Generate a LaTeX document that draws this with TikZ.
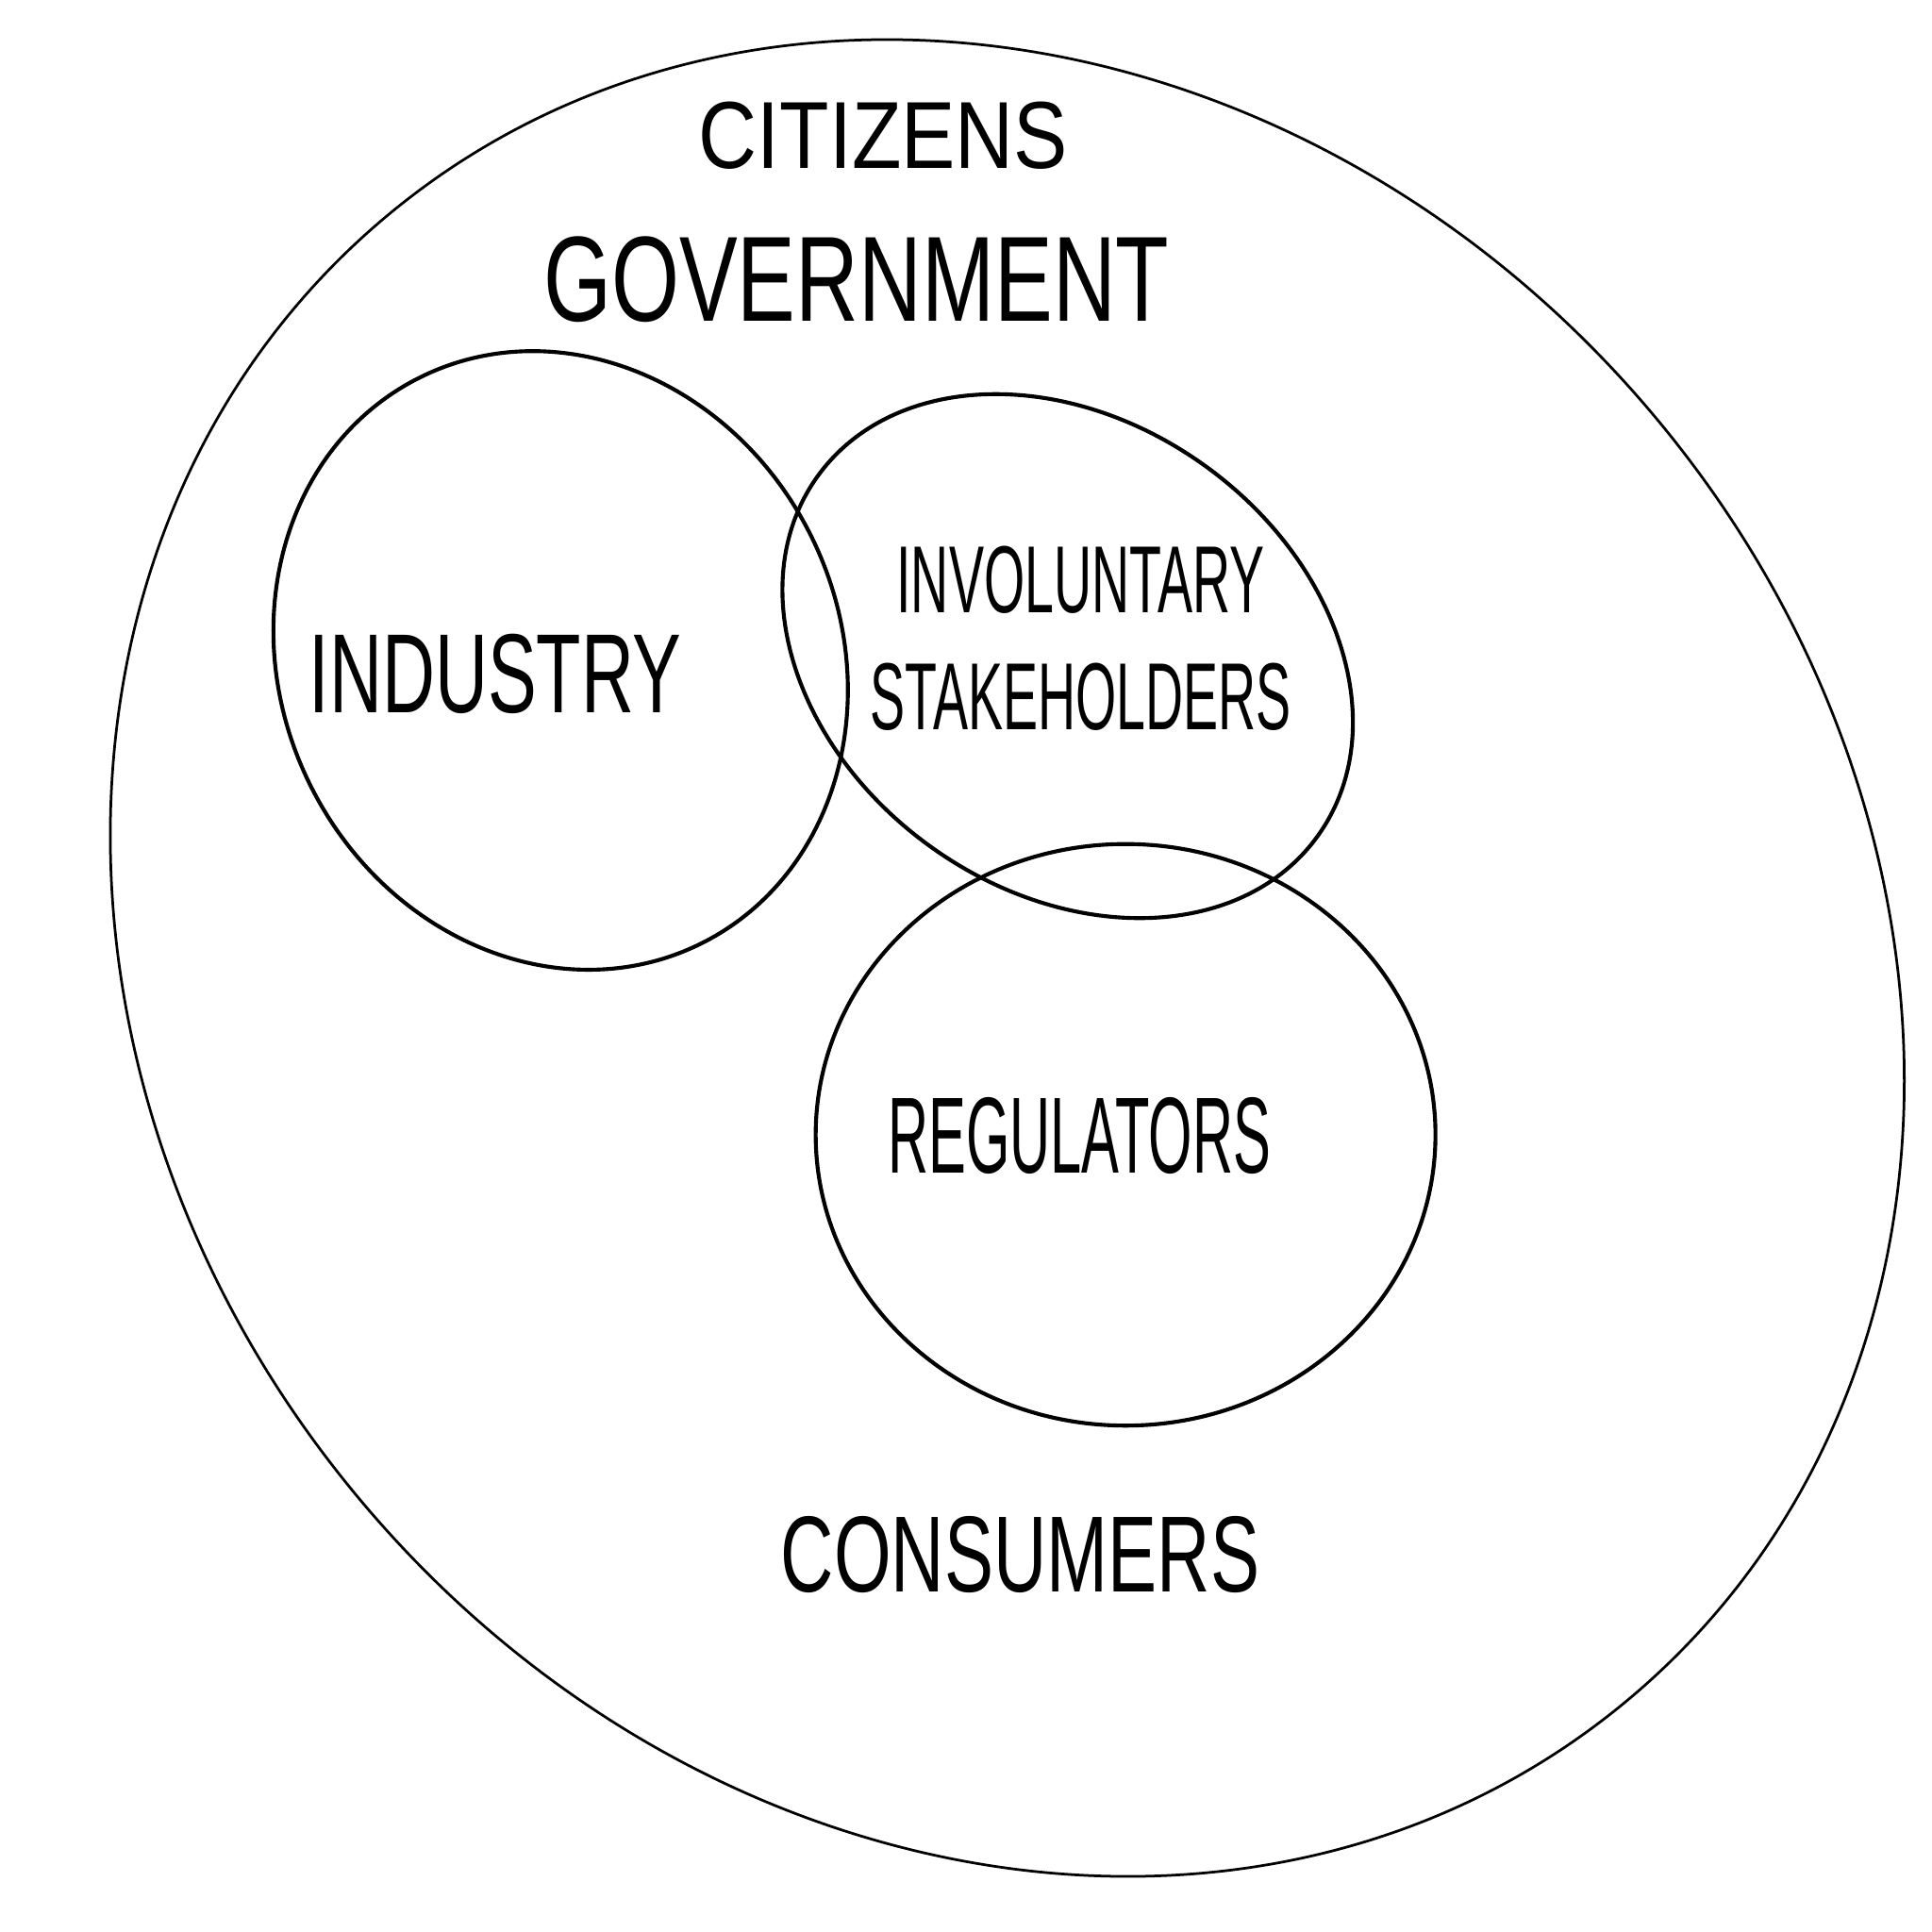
\documentclass[tikz,border=0pt]{standalone}
\usepackage{fontspec}
\setmainfont{Liberation Sans}
\usetikzlibrary{shapes.geometric}

\begin{document}
\begin{tikzpicture}
\tikzset{
    outer/.style={ellipse, draw=black, line width=0.6pt, inner sep=0pt},
    venn/.style={ellipse, draw=black, line width=0.9pt, inner sep=0pt},
    hand/.style={transform shape, inner sep=0pt, align=center}
}
\fill[white] (0,0) rectangle (15.68,-15.68);
\useasboundingbox (0,0) rectangle (15.68,-15.68);

% circles
\node[outer, minimum width=15.7cm, minimum height=13.7cm, rotate=-50] (society) at (8.175,-7.775) {};
\node[venn, minimum width=5.13cm, minimum height=4.54cm, rotate=-63.7] (industry) at (4.55,-5.36) {};
\node[venn, minimum width=5.0cm, minimum height=3.81cm, rotate=-35.7] (involuntary) at (8.665,-5.325) {};
\node[venn, minimum width=5.03cm, minimum height=4.72cm] (regulators) at (9.135,-9.21) {};

% labels
\node[hand, xscale=0.85, font=\fontsize{22}{26}\selectfont] (citizensLbl) at (7.17,-1.10) {CITIZENS};
\node[hand, xscale=0.72, font=\fontsize{28}{32}\selectfont] (governmentLbl) at (6.95,-2.27) {GOVERNMENT};
\node[hand, xscale=0.65, font=\fontsize{26}{30}\selectfont] (industryLbl) at (4.02,-5.47) {INDUSTRY};
\node[hand, xscale=0.55, font=\fontsize{22}{27}\selectfont] (involuntaryLbl) at (8.77,-5.18) {INVOLUNTARY\\STAKEHOLDERS};
\node[hand, xscale=0.52, font=\fontsize{25}{29}\selectfont] (regulatorsLbl) at (8.76,-9.22) {REGULATORS};
\node[hand, xscale=0.68, font=\fontsize{25}{29}\selectfont] (consumersLbl) at (8.28,-12.62) {CONSUMERS};
\end{tikzpicture}
\end{document}
